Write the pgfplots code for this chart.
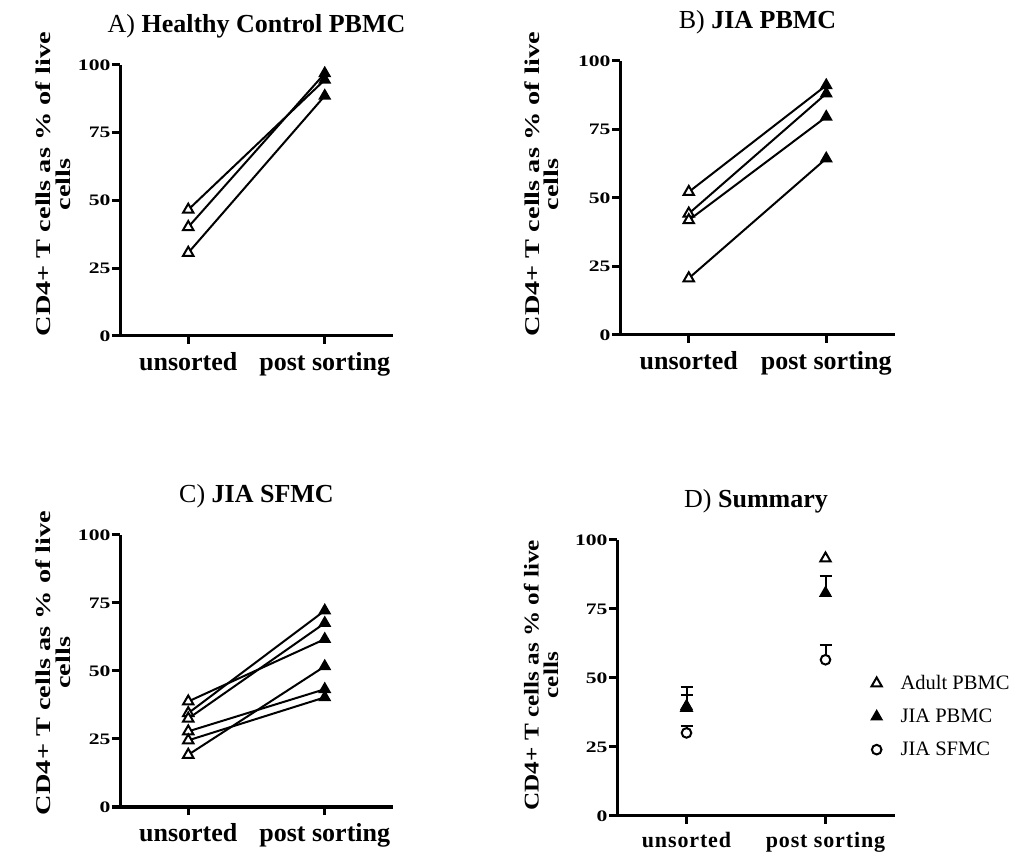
\documentclass[border=0pt]{standalone}
\usepackage{fontspec}
\setmainfont{Liberation Serif}
\newfontfamily\stretchfont[FakeStretch=1.35]{Liberation Serif}
\newfontfamily\stretchfontD[FakeStretch=1.2]{Liberation Serif}
\newfontfamily\spacedfont[LetterSpace=4]{Liberation Serif}
\usepackage{pgfplots}
\pgfplotsset{compat=1.18}

\pgfplotsset{
 panel/.style={
  scale only axis, clip=false,
  xmin=0.5, xmax=2.5, ymin=0, ymax=100,
  axis x line=bottom, axis y line=left,
  axis line style={-, line width=2.25pt},
  xtick={1,2}, xticklabels={unsorted, post sorting},
  ytick={0,25,50,75,100},
  /pgf/number format/assume math mode=true,
  tick align=outside,
  major tick length=6pt,
  tick style={black, line width=2.25pt},
  yticklabel style={font=\stretchfont\bfseries\fontsize{12}{12}\selectfont, inner sep=0pt, xshift=-1pt},
  xticklabel style={font=\bfseries\fontsize{19.5}{20}\selectfont, inner sep=0pt, yshift=-6pt},
  title style={font=\bfseries\fontsize{19.5}{20}\selectfont, at={(0.5,1)}, anchor=base, yshift=18pt},
  ylabel={CD4+ T cells as \% of live\\cells},
  ylabel style={font=\stretchfont\bfseries\fontsize{15.75}{14.5}\selectfont, align=center, anchor=center},
 },
 subj/.style={black, line width=1.5pt, no markers, forget plot},
 unsorted/.style={only marks, mark=triangle*, mark size=4.5pt, mark options={fill=white, draw=black, line width=1.5pt}, forget plot},
 sorted/.style={only marks, mark=triangle*, mark size=4.5pt, mark options={fill=black, draw=black, line width=1.2pt}, forget plot},
 ebar/.style={forget plot, draw=none, mark=none,
  error bars/y dir=plus, error bars/y explicit,
  error bars/error bar style={line width=1.5pt, black},
  error bars/error mark options={rotate=90, line width=1.5pt, mark size=4.5pt, black}},
}

\begin{document}
\begin{tikzpicture}
\useasboundingbox (0,0) rectangle (767.25pt,639pt);

% ---------------- A ----------------
\begin{axis}[panel, at={(90pt,387pt)}, anchor=south west,
  width=204.75pt, height=203.25pt,
  title={{\mdseries A)} Healthy Control PBMC},
  ylabel style={at={(axis description cs:-0.245,0.56)}}]
\addplot[subj] coordinates {(1,46.6) (2,94.5)};
\addplot[subj] coordinates {(1,40.2) (2,96.9)};
\addplot[subj] coordinates {(1,30.7) (2,88.6)};
\addplot[unsorted] coordinates {(1,46.6) (1,40.2) (1,30.7)};
\addplot[sorted] coordinates {(2,94.5) (2,96.9) (2,88.6)};
\end{axis}

% ---------------- B ----------------
\begin{axis}[panel, at={(465pt,387.75pt)}, anchor=south west,
  width=206.25pt, height=205.5pt,
  title={{\mdseries B)} JIA PBMC},
  ylabel style={at={(axis description cs:-0.284,0.55)}}]
\addplot[subj] coordinates {(1,52.2) (2,91.1)};
\addplot[subj] coordinates {(1,44.3) (2,88.1)};
\addplot[subj] coordinates {(1,41.9) (2,79.6)};
\addplot[subj] coordinates {(1,20.7) (2,64.4)};
\addplot[unsorted] coordinates {(1,52.2) (1,44.3) (1,41.9) (1,20.7)};
\addplot[sorted] coordinates {(2,91.1) (2,88.1) (2,79.6) (2,64.4)};
\end{axis}

% ---------------- C ----------------
\begin{axis}[panel, at={(90pt,33.75pt)}, anchor=south west,
  width=204.75pt, height=204pt,
  title={{\mdseries C)} JIA SFMC},
  ylabel style={at={(axis description cs:-0.245,0.53)}}]
\addplot[subj] coordinates {(1,38.8) (2,61.7)};
\addplot[subj] coordinates {(1,34.5) (2,72.2)};
\addplot[subj] coordinates {(1,32.5) (2,67.6)};
\addplot[subj] coordinates {(1,27.8) (2,43.3)};
\addplot[subj] coordinates {(1,24.5) (2,40.3)};
\addplot[subj] coordinates {(1,19.2) (2,51.7)};
\addplot[unsorted] coordinates {(1,38.8) (1,34.5) (1,32.5) (1,27.8) (1,24.5) (1,19.2)};
\addplot[sorted] coordinates {(2,61.7) (2,72.2) (2,67.6) (2,43.3) (2,40.3) (2,51.7)};
\end{axis}

% ---------------- D ----------------
\begin{axis}[panel, at={(462.75pt,27pt)}, anchor=south west,
  width=208.5pt, height=207pt,
  title={{\mdseries D)} Summary},
  ylabel style={font=\stretchfontD\bfseries\fontsize{15.75}{14.5}\selectfont, at={(axis description cs:-0.273,0.51)}},
  xticklabel style={font=\spacedfont\bfseries\fontsize{16.5}{17}\selectfont},
  legend style={draw=none, fill=none, font=\fontsize{15.4}{16}\selectfont,
    at={(axis description cs:0.9,0.53)}, anchor=north west, row sep=9pt,
    /tikz/every odd column/.append style={column sep=12pt}},
  legend cell align=left]
% error bars (upper SEM), drawn beneath the symbols
\addplot[ebar] coordinates {(1,39.2) +- (0,4.6)};
\addplot[ebar] coordinates {(1,39.8) +- (0,6.8) (2,80.8) +- (0,6.2)};
\addplot[ebar] coordinates {(1,30.1) +- (0,2.5) (2,56.6) +- (0,5.2)};
% group means
\addplot[only marks, mark=triangle*, mark size=4.5pt, mark options={fill=white, draw=black, line width=1.5pt}]
  coordinates {(1,39.2) (2,93.3)};
\addlegendentry{Adult PBMC}
\addplot[only marks, mark=triangle*, mark size=4.5pt, mark options={fill=black, draw=black, line width=1.2pt}]
  coordinates {(1,39.8) (2,80.8)};
\addlegendentry{JIA PBMC}
\addplot[only marks, mark=*, mark size=3.6pt, mark options={fill=white, draw=black, line width=1.5pt}]
  coordinates {(1,30.1) (2,56.6)};
\addlegendentry{JIA SFMC}
\end{axis}
\end{tikzpicture}
\end{document}
